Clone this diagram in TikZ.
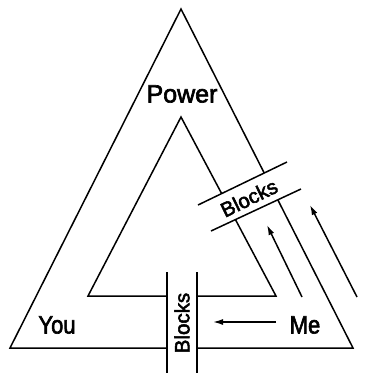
\documentclass[tikz,border=0pt]{standalone}
\usepackage{fontspec}
\setmainfont{Liberation Sans}
\newfontfamily\medfont{Liberation Sans}[FakeBold=2.5]
\usetikzlibrary{arrows.meta}
\begin{document}
\begin{tikzpicture}[x=1pt,y=-1pt,line width=1.5pt,
  lbl/.style={inner sep=0pt,font=\fontsize{25}{25}\medfont},
  blk/.style={inner sep=0pt,font=\fontsize{20.5}{20.5}\medfont},
  arr/.style={-{Latex[length=10pt,width=6pt]}}]
\useasboundingbox (0,0) rectangle (381,373);
% outer triangle
\coordinate (oT) at (181,9);
\coordinate (oL) at (10,348);
\coordinate (oR) at (353,348);
% inner triangle
\coordinate (iT) at (181,117);
\coordinate (iL) at (88,296);
\coordinate (iR) at (276,296);
\draw[line join=miter] (oR) -- (oT) -- (oL) -- cycle;
\draw[line join=miter] (iR) -- (iT) -- (iL) -- cycle;
% slanted band
\coordinate (a1) at (198,205);
\coordinate (a2) at (287,162);
\coordinate (b1) at (211,231);
\coordinate (b2) at (301,189);
\fill[white] (a1) -- (a2) -- (b2) -- (b1) -- cycle;
\draw (a1) -- (a2);
\draw (b1) -- (b2);
% vertical band
\coordinate (v1) at (167,272);
\coordinate (v2) at (167,373);
\coordinate (w1) at (197,272);
\coordinate (w2) at (197,373);
\fill[white] (v1) rectangle (w2);
\draw (v1) -- (v2);
\draw (w1) -- (w2);
% labels
\node[lbl] (power) at (182,94) {Power};
\node[lbl,xscale=0.88] (you) at (57,325) {You};
\node[lbl,xscale=0.88] (me) at (305,325) {Me};
\node[blk,rotate=26] (blocksA) at (249,198) {Blocks};
\node[blk,rotate=90] (blocksB) at (182,323) {Blocks};
% arrows
\coordinate (s1) at (302,297);
\coordinate (e1) at (267,225);
\coordinate (s2) at (357,297);
\coordinate (e2) at (310,205);
\coordinate (s3) at (276,322);
\coordinate (e3) at (213,322);
\draw[arr] (s1) -- (e1);
\draw[arr] (s2) -- (e2);
\draw[arr] (s3) -- (e3);
\end{tikzpicture}
\end{document}
